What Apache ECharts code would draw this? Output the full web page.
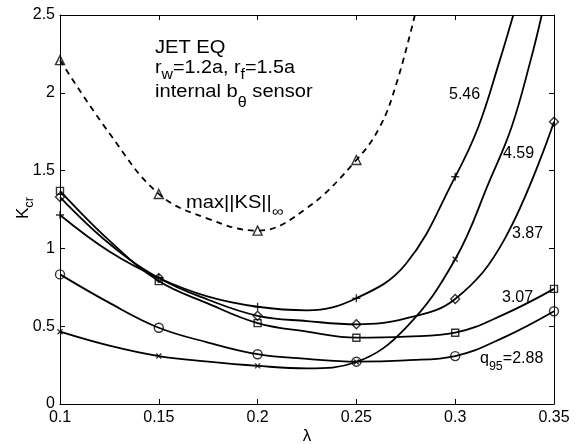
<!DOCTYPE html>
<html>
<head>
<meta charset="utf-8">
<script src="https://cdn.jsdelivr.net/npm/echarts@6/dist/echarts.min.js"></script>
<style>
  html, body { margin: 0; padding: 0; background: #fff; }
  #chart { width: 581px; height: 444px; }
</style>
</head>
<body>
<div id="chart"></div>
<script>
// λ grid at which K_cr was computed (marked points)
const lambda = [0.1, 0.15, 0.2, 0.25, 0.3, 0.35];
// half-step λ positions along the fitted curves
const lambdaMid = [0.125, 0.175, 0.225, 0.275, 0.325];

// K_cr at the computed points, one array per q95
const kQ288 = [0.833, 0.49, 0.32, 0.272, 0.308, 0.596];
const kQ307 = [1.37, 0.79, 0.52, 0.426, 0.458, 0.74];
const kQ387 = [1.33, 0.81, 0.567, 0.512, 0.675, 1.814];
const kQ459 = [0.465, 0.308, 0.245, 0.27, 0.93];
const kQ546 = [1.215, 0.81, 0.625, 0.68, 1.46];
const kMaxKS = [2.21, 1.35, 1.114, 1.568];

// fitted curves at the half-step positions
const midQ288 = [0.65, 0.395, 0.29, 0.281, 0.43];
const midQ307 = [1.05, 0.645, 0.465, 0.433, 0.578];
const midQ387 = [1.03, 0.67, 0.533, 0.55, 1.06];
const midQ459 = [0.375, 0.272, 0.229, 0.49];
const midQ546 = [0.98, 0.69, 0.602, 0.9];
const midMaxKS = [1.74, 1.19, 1.26];

// curve continuations past the last computed point, up to K = 2.5
const tailQ459 = [[0.3176, 1.44], [0.3286, 1.782], [0.3382, 2.21], [0.3438, 2.5]];
const tailQ546 = [[0.3117, 1.78], [0.3226, 2.21], [0.3294, 2.5]];
const tailMaxKS = [[0.2619, 1.782], [0.2703, 2.061], [0.2796, 2.5]];

// axis ticks
const xTicks = { min: 0.1, max: 0.35, step: 0.05 };
const yTicks = { min: 0, max: 2.5, step: 0.5 };

const FONT = 'Liberation Sans, Arial, Helvetica, sans-serif';
const INK = '#000';

const SYM_PLUS = 'path://M5,0L5,10M0,5L10,5';
const SYM_X = 'path://M0,0L10,10M0,10L10,0';

function pairs(xs, vals) { return vals.map((v, i) => [xs[i], v]); }

function curve(vals, mids, tail, dashed) {
  const data = pairs(lambda, vals).concat(pairs(lambdaMid, mids), tail || [])
    .sort((a, b) => a[0] - b[0]);
  return {
    type: 'line',
    data: data,
    smooth: 0.4,
    symbol: 'none',
    silent: true,
    z: 2,
    lineStyle: { color: INK, width: 1.8, type: dashed ? [6, 5] : 'solid' }
  };
}

function marks(vals, symbol, size) {
  return {
    type: 'scatter',
    data: pairs(lambda, vals),
    symbol: symbol,
    symbolSize: size,
    silent: true,
    z: 3,
    itemStyle: { color: 'rgba(0,0,0,0)', borderColor: INK, borderWidth: 1.4 }
  };
}

const txt = (size, pad) => ({ fontSize: size, fontFamily: FONT, color: INK, padding: [pad || 0, 0, 0, 0] });

// plain or rich text placed in pixel space; sx stretches it horizontally
function label(x, y, text, opts) {
  opts = opts || {};
  return {
    type: 'text', x: x, y: y, silent: true,
    scaleX: opts.sx || 1,
    rotation: opts.rot || 0,
    style: {
      text: text, rich: opts.rich || {}, fill: INK,
      font: (opts.size || 16) + 'px ' + FONT,
      align: opts.align || 'left', verticalAlign: 'middle'
    }
  };
}

const axisCommon = {
  type: 'value',
  axisLine: { show: true, onZero: false, lineStyle: { color: INK, width: 1 } },
  axisTick: { show: true, inside: true, length: 5, lineStyle: { color: INK, width: 1 } },
  splitLine: { show: false }
};

const chart = echarts.init(document.getElementById('chart'), null, { renderer: 'canvas' });

chart.setOption({
  backgroundColor: '#fff',
  animation: false,
  grid: { left: 60, right: 27, top: 15, bottom: 40, containLabel: false },
  xAxis: [
    Object.assign({}, axisCommon, {
      position: 'bottom', min: xTicks.min, max: xTicks.max, interval: xTicks.step,
      axisLabel: { color: INK, fontSize: 16, fontFamily: FONT, margin: 6,
        formatter: v => String(+v.toFixed(2)) }
    }),
    Object.assign({}, axisCommon, {
      position: 'top', min: xTicks.min, max: xTicks.max, interval: xTicks.step,
      axisLabel: { show: false }
    })
  ],
  yAxis: [
    Object.assign({}, axisCommon, {
      position: 'left', min: yTicks.min, max: yTicks.max, interval: yTicks.step,
      axisLabel: { color: INK, fontSize: 16, fontFamily: FONT, margin: 5,
        formatter: v => String(+v.toFixed(1)) }
    }),
    Object.assign({}, axisCommon, {
      position: 'right', min: yTicks.min, max: yTicks.max, interval: yTicks.step,
      axisLabel: { show: false }
    })
  ],
  series: [
    curve(kMaxKS, midMaxKS, tailMaxKS, true),
    curve(kQ288, midQ288, null, false),
    curve(kQ307, midQ307, null, false),
    curve(kQ387, midQ387, null, false),
    curve(kQ459, midQ459, tailQ459, false),
    curve(kQ546, midQ546, tailQ546, false),
    marks(kMaxKS, 'triangle', 9),
    marks(kQ288, 'circle', 9),
    marks(kQ307, 'rect', 7),
    marks(kQ387, 'diamond', 9),
    marks(kQ459, SYM_X, 5),
    marks(kQ546, SYM_PLUS, 8)
  ],
  graphic: [
    label(155, 48, 'JET EQ', { size: 17.5, sx: 1.15 }),
    label(155, 68, '{m|r}{s|w}{m|=1.2a, r}{s|f}{m|=1.5a}', { rich: { m: txt(17.5), s: txt(14, 14) }, sx: 1.13 }),
    label(155, 92, '{m|internal b}{s|θ}{m| sensor}', { rich: { m: txt(17.5), s: txt(14, 22) }, sx: 1.15 }),
    label(186, 203, '{m|max||KS||}{s|∞}', { rich: { m: txt(17.5), s: txt(14, 18) }, sx: 1.15 }),
    label(449, 95, '5.46', { size: 16 }),
    label(503, 154, '4.59', { size: 16 }),
    label(512, 234, '3.87', { size: 16 }),
    label(502, 298, '3.07', { size: 16 }),
    label(480, 359, '{m|q}{s|95}{m|=2.88}', { rich: { m: txt(16), s: txt(12.5, 15) } }),
    label(307, 436, 'λ', { size: 17, align: 'center' }),
    label(23, 208, '{m|K}{s|cr}', { rich: { m: txt(17), s: txt(13, 13) }, rot: Math.PI / 2, align: 'center' })
  ]
});
</script>
</body>
</html>
